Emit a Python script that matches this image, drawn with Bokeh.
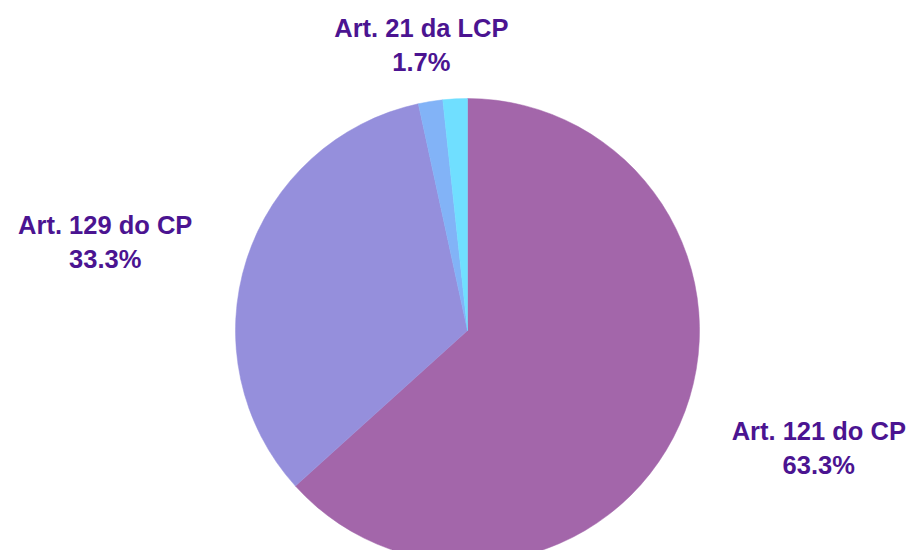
import numpy as np
from bokeh.plotting import figure
from bokeh.models import ColumnDataSource, Range1d
from bokeh.core.properties import value
from bokeh.embed import file_html
from bokeh.resources import INLINE

# --- data ---
categories = ["Art. 121 do CP", "Art. 129 do CP", "Art. 21 da LCP", ""]
shares = [63.3, 33.3, 1.7, 1.7]
colors = ["#a366aa", "#958fdc", "#82b3f7", "#70dfff"]
show_label = [True, True, True, False]

W, H = 907, 550
p = figure(width=W, height=H, x_range=Range1d(0, W), y_range=Range1d(0, H),
           output_backend="svg", toolbar_location=None,
           x_axis_type=None, y_axis_type=None, min_border=0,
           outline_line_color=None, background_fill_color="white",
           border_fill_color="white")
p.grid.visible = False

cx, cy, R, RL = 467, 220, 232, 289
frac = np.array(shares) / sum(shares)
ends = np.cumsum(frac) * 2 * np.pi
starts = ends - frac * 2 * np.pi
mid = (starts + ends) / 2

wsrc = ColumnDataSource(dict(
    start=np.pi / 2 - starts, end=np.pi / 2 - ends, color=colors))
p.wedge(x=cx, y=cy, radius=R, radius_units="screen",
        start_angle="start", end_angle="end", direction="clock",
        fill_color="color", line_color="color", line_width=0.5, source=wsrc)

lx, ly, txt, anc = [], [], [], []
for c, s, m, show in zip(categories, shares, mid, show_label):
    if not show:
        continue
    sn = np.sin(m)
    lx.append(cx + RL * sn)
    ly.append(cy + RL * np.cos(m))
    txt.append(f"{c}\n{s:.1f}%")
    anc.append("center_left" if sn > 0.35 else ("center_right" if sn < -0.35 else "center"))

lsrc = ColumnDataSource(dict(x=lx, y=ly, text=txt, anchor=anc))
p.text(x="x", y="y", text="text", anchor="anchor", source=lsrc,
       text_align="center", text_baseline="middle",
       text_font=value("Liberation Sans"), text_font_style="bold",
       text_font_size="25.5px", text_color="#4b1491", text_line_height=1.22)

open("out.html", "w").write(file_html(p, INLINE))
